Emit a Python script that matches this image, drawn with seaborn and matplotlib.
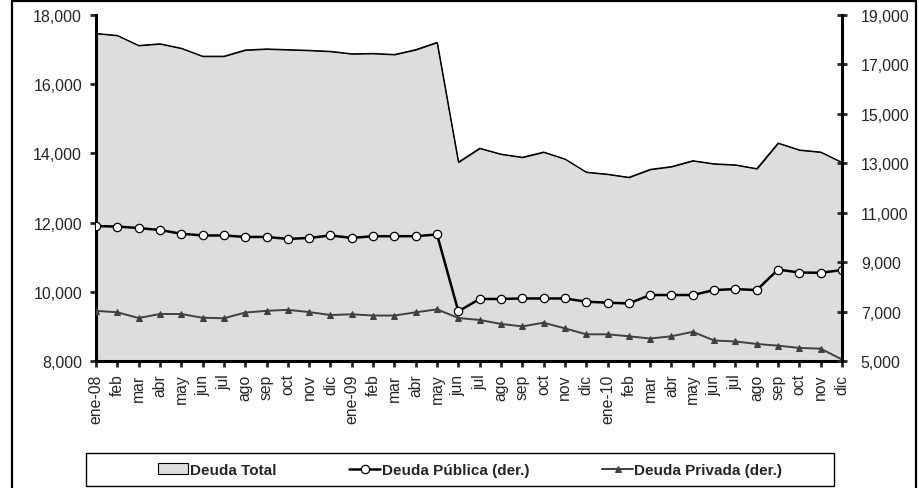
import numpy as np
import pandas as pd
import matplotlib.pyplot as plt
import seaborn as sns
from matplotlib.patches import Rectangle
from matplotlib.ticker import FuncFormatter

# Datos mensuales (ene-08 a dic-10)
meses = ['ene-08', 'feb', 'mar', 'abr', 'may', 'jun', 'jul', 'ago', 'sep', 'oct', 'nov', 'dic',
         'ene-09', 'feb', 'mar', 'abr', 'may', 'jun', 'jul', 'ago', 'sep', 'oct', 'nov', 'dic',
         'ene-10', 'feb', 'mar', 'abr', 'may', 'jun', 'jul', 'ago', 'sep', 'oct', 'nov', 'dic']

deuda_total = [17470, 17410, 17120, 17170, 17040, 16810, 16810, 16990, 17020, 17000, 16980, 16950,
               16880, 16890, 16860, 17000, 17210, 13750, 14150, 13980, 13890, 14040, 13840, 13460,
               13400, 13310, 13540, 13620, 13790, 13700, 13670, 13560, 14300, 14100, 14040, 13740]

deuda_publica = [10460, 10440, 10380, 10300, 10150, 10080, 10080, 10020, 10020, 9940, 9980, 10080,
                 9980, 10050, 10050, 10050, 10120, 7010, 7510, 7510, 7530, 7530, 7530, 7400,
                 7360, 7330, 7670, 7670, 7670, 7870, 7910, 7870, 8700, 8580, 8570, 8680]

deuda_privada = [7030, 6970, 6740, 6900, 6900, 6750, 6730, 6960, 7030, 7070, 6980, 6860,
                 6890, 6840, 6840, 6970, 7090, 6740, 6660, 6500, 6400, 6550, 6320, 6080,
                 6080, 6000, 5910, 6000, 6180, 5830, 5790, 5690, 5620, 5530, 5500, 5060]

x = np.arange(len(meses))

sns.set_style("white")
plt.rcParams['font.family'] = ['Liberation Sans', 'DejaVu Sans']

fig = plt.figure(figsize=(9.2, 4.89), dpi=100)

# Marco exterior
fig.patches.append(Rectangle((12 / 920, -0.05), (916 - 12) / 920, 1.05 - 2 / 489,
                             transform=fig.transFigure, fill=False, edgecolor='black', linewidth=1.6))

ax = fig.add_axes([96 / 920, 1 - 362 / 489, (842 - 96) / 920, (362 - 16) / 489])
ax.fill_between(x, deuda_total, 8000, color='#DDDDDD', linewidth=0, label='Deuda Total')
sns.lineplot(x=x, y=deuda_total, ax=ax, color='black', linewidth=0.8, legend=False)
ax.set_xlim(0, len(meses) - 1)
ax.set_ylim(8000, 18000)
ax.set_yticks(range(8000, 18001, 2000))
ax.set_xticks(x)
ax.set_xticklabels(meses, rotation=90, fontsize=11.3)
ax.yaxis.set_major_formatter(FuncFormatter(lambda v, p: f'{int(v):,}'))
ax.tick_params(axis='y', labelsize=11.5, length=4, width=2, direction='out', left=True, pad=6)
ax.tick_params(axis='x', length=4, width=2, direction='out', bottom=True, pad=5)
ax.set_xlabel('')
ax.set_ylabel('')

ax2 = ax.twinx()
sns.lineplot(x=x, y=deuda_publica, ax=ax2, color='black', linewidth=1.8, marker='o',
             markersize=6, markerfacecolor='white', markeredgecolor='black', markeredgewidth=0.9,
             label='Deuda Pública (der.)', legend=False)
sns.lineplot(x=x, y=deuda_privada, ax=ax2, color='#404040', linewidth=1.4, marker='^',
             markersize=5, markerfacecolor='#404040', markeredgecolor='#404040',
             label='Deuda Privada (der.)', legend=False)
ax2.set_ylim(5000, 19000)
ax2.set_yticks(range(5000, 19001, 2000))
ax2.yaxis.set_major_formatter(FuncFormatter(lambda v, p: f'{int(v):,}'))
ax2.tick_params(axis='y', labelsize=11.5, length=7, width=2, direction='inout', right=True, pad=10)
ax2.set_ylabel('')

for a in (ax, ax2):
    a.spines['top'].set_visible(False)
    for s in ('left', 'right', 'bottom'):
        a.spines[s].set_linewidth(2.2)
        a.spines[s].set_color('black')
ax2.spines['left'].set_visible(False)
ax2.spines['bottom'].set_visible(False)
ax.spines['right'].set_visible(False)

# Leyenda
h1, l1 = ax.get_legend_handles_labels()
h2, l2 = ax2.get_legend_handles_labels()
handles = [h1[0]] + h2
labels = [l1[0]] + l2
handles[0].set_edgecolor('black')
handles[0].set_linewidth(0.8)
fig.patches.append(Rectangle((86 / 920, 2 / 489), (834 - 86) / 920, 33 / 489,
                             transform=fig.transFigure, fill=False, edgecolor='black', linewidth=1.0))
leg = fig.legend(handles, labels, loc='center', bbox_to_anchor=(470 / 920, 1 - 471 / 489),
                 ncol=3, frameon=False, handlelength=2.0, handletextpad=0.1, columnspacing=4.8,
                 prop={'weight': 'bold', 'size': 11})

fig.savefig('out.png', dpi=100)
